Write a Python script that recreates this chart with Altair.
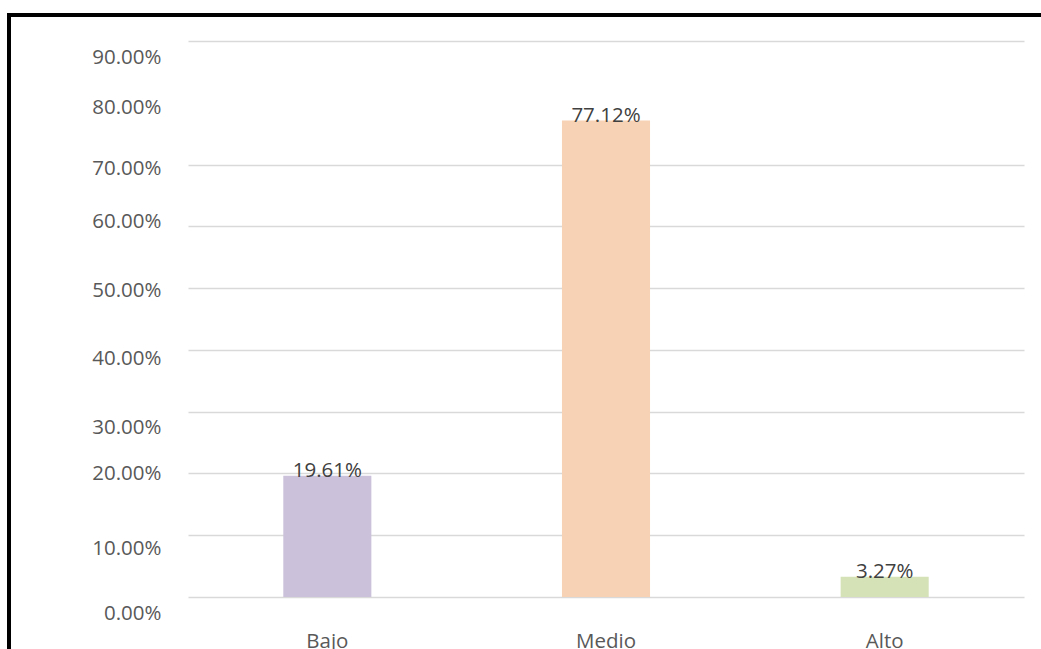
import altair as alt
import pandas as pd

categories = ["Bajo", "Medio", "Alto"]
values = [0.1961, 0.7712, 0.0327]
colors = ["#CBC1DB", "#F7D2B4", "#D5E1B7"]
y_ticks = [0, 0.1, 0.2, 0.3, 0.4, 0.5, 0.6, 0.7, 0.8, 0.9]

df = pd.DataFrame({"cat": categories, "val": values})

FONT = "Open Sans"
FS = 20.5
# per-tick vertical nudge of the y labels, as in the reference rendering
label_nudge = [(0.0, 16), (0.1, 13), (0.2, 0), (0.3, 16), (0.4, 9), (0.5, 2),
               (0.6, -5), (0.7, 4), (0.8, 5), (0.9, 16)]

x = alt.X("cat:N", sort=categories, title=None,
          scale=alt.Scale(paddingInner=0.684, paddingOuter=0.342),
          axis=alt.Axis(labelAngle=0, labelFont=FONT, labelFontSize=FS,
                        labelColor="#595959", labelPadding=34, ticks=False,
                        domain=False))
y = alt.Y("val:Q", title=None,
          scale=alt.Scale(domain=[0, 0.9], nice=False),
          axis=alt.Axis(values=y_ticks, format=".2%", labelFont=FONT,
                        labelFontSize=FS, labelColor="#595959", labelPadding=27,
                        ticks=False, domain=False, gridColor="#D9D9D9",
                        gridWidth=1.5,
                        gridOpacity={"condition": {"test": "abs(datum.value-0.8)<0.001", "value": 0}, "value": 1},
                        labelOffset={"condition": [
                            {"test": f"abs(datum.value-{v})<0.001", "value": o}
                            for v, o in label_nudge], "value": 0}))

bars = alt.Chart(df).mark_bar().encode(
    x=x, y=y,
    color=alt.Color("cat:N", scale=alt.Scale(domain=categories, range=colors), legend=None),
)

texts = alt.Chart(df).mark_text(font=FONT, fontSize=FS, color="#404040",
                                baseline="alphabetic", dy=1).encode(
    x=alt.X("cat:N", sort=categories),
    y=alt.Y("val:Q"),
    text=alt.Text("val:Q", format=".2%"),
)

border_left = alt.Chart(df).mark_rule(color="black", strokeWidth=4).encode(
    x=alt.value(-179), y=alt.value(-27), y2=alt.value(700))
border_top = alt.Chart(df).mark_rule(color="black", strokeWidth=4).encode(
    x=alt.value(-181), x2=alt.value(900), y=alt.value(-26))

chart = alt.layer(bars, texts, border_left, border_top).properties(
    width=836, height=556,
    autosize=alt.AutoSizeParams(type="none"),
    padding={"left": 188, "top": 41, "right": 17, "bottom": 52},
    background="white",
).configure_view(stroke=None)

chart.save("out.html", embed_options={"renderer": "svg", "actions": False})
